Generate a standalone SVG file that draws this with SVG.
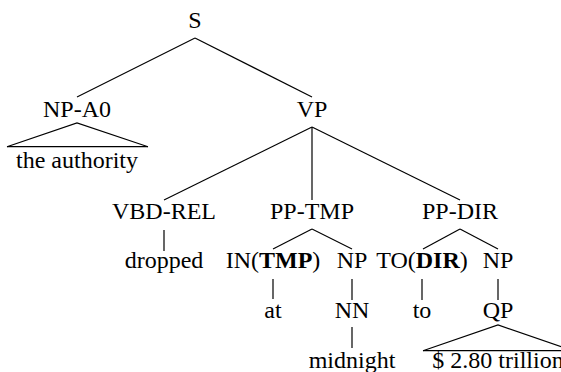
<svg xmlns="http://www.w3.org/2000/svg" width="561" height="372" viewBox="0 0 561 372">
<rect width="561" height="372" fill="#fff"/>
<g id="edges" stroke="#000" stroke-width="1.2" fill="none">
<line x1="195" y1="38" x2="77" y2="97"/>
<line x1="195" y1="38" x2="312" y2="97"/>
<polyline points="7,146.7 77,123 148,146.7"/>
<line x1="7" y1="146.7" x2="148" y2="146.7"/>
<line x1="312" y1="127" x2="164" y2="200"/>
<line x1="312" y1="127" x2="312" y2="200"/>
<line x1="312" y1="127" x2="460" y2="200"/>
<line x1="164" y1="230" x2="164" y2="251"/>
<line x1="312" y1="229" x2="273" y2="249"/>
<line x1="312" y1="229" x2="352" y2="249"/>
<line x1="460" y1="229" x2="423" y2="249"/>
<line x1="460" y1="229" x2="498" y2="249"/>
<line x1="273" y1="279" x2="273" y2="299"/>
<line x1="352" y1="279" x2="352" y2="300"/>
<line x1="422" y1="279" x2="422" y2="300"/>
<line x1="498" y1="279" x2="498" y2="300"/>
<line x1="352" y1="327" x2="352" y2="348"/>
<polyline points="423,350.7 498,325 573,350.7"/>
<line x1="423" y1="350.7" x2="573" y2="350.7"/>
</g>
<g id="S"><text x="195" y="28" font-family="Liberation Serif" font-size="24" text-anchor="middle">S</text></g>
<g id="NP-A0"><text x="77" y="117" font-family="Liberation Serif" font-size="24" text-anchor="middle">NP-A0</text></g>
<g id="the-authority"><text x="77" y="168" font-family="Liberation Serif" font-size="24" text-anchor="middle">the authority</text></g>
<g id="VP"><text x="312" y="117" font-family="Liberation Serif" font-size="24" text-anchor="middle">VP</text></g>
<g id="VBD-REL"><text x="164" y="219" font-family="Liberation Serif" font-size="24" text-anchor="middle">VBD-REL</text></g>
<g id="PP-TMP"><text x="312" y="219" font-family="Liberation Serif" font-size="24" text-anchor="middle">PP-TMP</text></g>
<g id="PP-DIR"><text x="460" y="219" font-family="Liberation Serif" font-size="24" text-anchor="middle">PP-DIR</text></g>
<g id="dropped"><text x="164" y="268" font-family="Liberation Serif" font-size="24" text-anchor="middle">dropped</text></g>
<g id="IN-TMP"><text x="273" y="268" font-family="Liberation Serif" font-size="24" text-anchor="middle">IN(<tspan font-weight="bold">TMP</tspan>)</text></g>
<g id="NP1"><text x="352" y="268" font-family="Liberation Serif" font-size="24" text-anchor="middle">NP</text></g>
<g id="TO-DIR"><text x="422" y="268" font-family="Liberation Serif" font-size="24" text-anchor="middle">TO(<tspan font-weight="bold">DIR</tspan>)</text></g>
<g id="NP2"><text x="498" y="268" font-family="Liberation Serif" font-size="24" text-anchor="middle">NP</text></g>
<g id="at"><text x="273" y="318" font-family="Liberation Serif" font-size="24" text-anchor="middle">at</text></g>
<g id="NN"><text x="352" y="318" font-family="Liberation Serif" font-size="24" text-anchor="middle">NN</text></g>
<g id="to"><text x="422" y="318" font-family="Liberation Serif" font-size="24" text-anchor="middle">to</text></g>
<g id="QP"><text x="498" y="318" font-family="Liberation Serif" font-size="24" text-anchor="middle">QP</text></g>
<g id="midnight"><text x="352" y="368" font-family="Liberation Serif" font-size="24" text-anchor="middle">midnight</text></g>
<g id="trillion"><text x="498" y="368" font-family="Liberation Serif" font-size="24" text-anchor="middle">$ 2.80 trillion</text></g>
</svg>
